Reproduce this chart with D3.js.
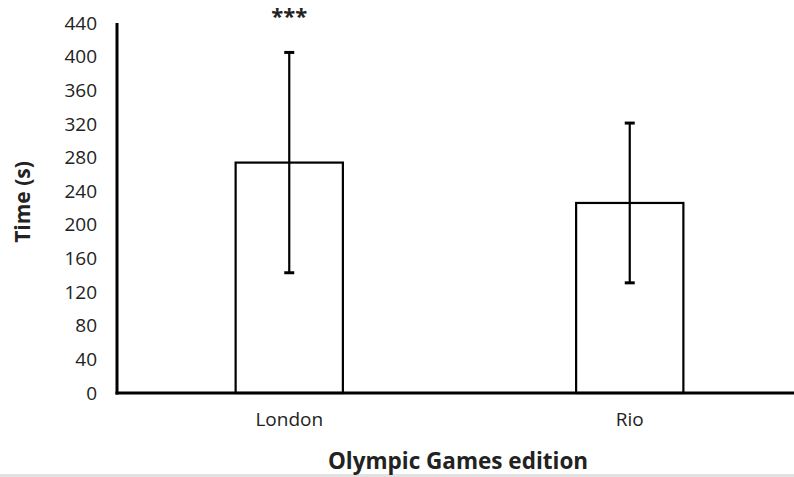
<!DOCTYPE html>
<html>
<head>
<meta charset="utf-8">
<script src="https://cdn.jsdelivr.net/npm/d3@7/dist/d3.min.js"></script>
<style>
  html, body { margin: 0; padding: 0; background: #fff; }
  svg { display: block; }
  text { font-family: "Open Sans", "Noto Sans", sans-serif; fill: #222; }
</style>
</head>
<body>
<svg id="chart" width="794" height="477"></svg>
<script>
const categories = ["London", "Rio"];
const means = [274, 226];
const errors = [131, 95];
const significance = ["***", ""];
const yTicks = [0, 40, 80, 120, 160, 200, 240, 280, 320, 360, 400, 440];
const yLabel = "Time (s)";
const xLabel = "Olympic Games edition";

(function () {
const svg = d3.select("#chart");
const W = 794, H = 477;
const mLeft = 117, mTop = 23, mBottom = 393, mRight = 800;

const x = d3.scaleBand().domain(categories).range([mLeft + 2, mRight]).paddingInner(0.685).paddingOuter(0.3425);
const y = d3.scaleLinear().domain([0, 440]).range([mBottom, mTop]);

// bottom light gray rule
svg.append("rect").attr("x", 0).attr("y", 474).attr("width", W).attr("height", 3).attr("fill", "#e2e2e2");

// bars
categories.forEach((c, i) => {
  svg.append("rect")
    .attr("x", x(c)).attr("y", y(means[i]))
    .attr("width", x.bandwidth()).attr("height", y(0) - y(means[i]))
    .attr("fill", "#fff").attr("stroke", "#000").attr("stroke-width", 2.2);
});

// error bars
categories.forEach((c, i) => {
  const cx = x(c) + x.bandwidth() / 2;
  const hi = y(means[i] + errors[i]), lo = y(means[i] - errors[i]);
  svg.append("line").attr("x1", cx).attr("x2", cx).attr("y1", hi).attr("y2", lo)
    .attr("stroke", "#000").attr("stroke-width", 2.2);
  [hi, lo].forEach(v => {
    svg.append("line").attr("x1", cx - 5).attr("x2", cx + 5).attr("y1", v).attr("y2", v)
      .attr("stroke", "#000").attr("stroke-width", 3);
  });
  if (significance[i]) {
    svg.append("text").attr("x", cx).attr("y", 24).attr("text-anchor", "middle")
      .attr("font-size", 22).attr("font-weight", "bold").attr("textLength", 36)
      .text(significance[i]);
  }
});

// y axis
const yAxis = d3.axisLeft(y).tickValues(yTicks).tickSize(0).tickPadding(20);
const gy = svg.append("g").attr("transform", `translate(${mLeft},0)`).call(yAxis);
gy.select(".domain").remove();
gy.selectAll("text").attr("font-size", 19).attr("font-family", "Open Sans, sans-serif").attr("fill", "#222");
svg.append("line").attr("x1", mLeft).attr("x2", mLeft).attr("y1", mTop).attr("y2", mBottom + 1.5)
  .attr("stroke", "#000").attr("stroke-width", 3);

// x axis
const xAxis = d3.axisBottom(x).tickSize(0).tickPadding(20);
const gx = svg.append("g").attr("transform", `translate(0,${mBottom})`).call(xAxis);
gx.select(".domain").remove();
gx.selectAll("text").attr("font-size", 19).attr("font-family", "Open Sans, sans-serif").attr("fill", "#222");
svg.append("line").attr("x1", mLeft - 1.5).attr("x2", W).attr("y1", mBottom).attr("y2", mBottom)
  .attr("stroke", "#000").attr("stroke-width", 3);

// axis titles
svg.append("text").attr("transform", `translate(30,202) rotate(-90)`)
  .attr("text-anchor", "middle").attr("font-size", 21).attr("font-weight", "bold").attr("fill", "#111")
  .text(yLabel);
svg.append("text").attr("x", 458).attr("y", 469).attr("text-anchor", "middle")
  .attr("font-size", 22.5).attr("font-weight", "bold").attr("fill", "#111")
  .text(xLabel);
})();
</script>
</body>
</html>
